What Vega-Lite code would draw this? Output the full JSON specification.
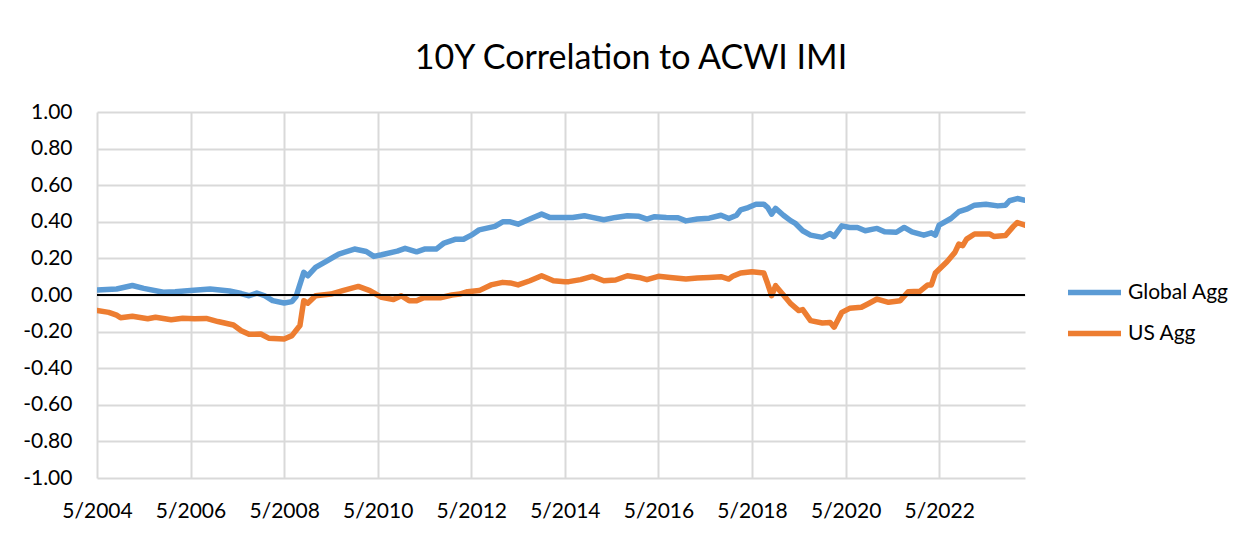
{
  "$schema": "https://vega.github.io/schema/vega-lite/v6.json",
  "width": 928,
  "height": 366,
  "autosize": {"type": "none"},
  "padding": {"left": 97, "top": 112, "right": 219, "bottom": 56},
  "background": "#ffffff",
  "title": {
    "text": "10Y Correlation to ACWI IMI",
    "font": "Lato",
    "fontSize": 34,
    "fontWeight": "normal",
    "color": "#000000",
    "anchor": "middle",
    "frame": "group",
    "dx": 70,
    "baseline": "alphabetic",
    "offset": -2
  },
  "config": {
    "view": {"stroke": null},
    "font": "Lato",
    "axis": {"labelOverlap": false, "labelFlush": false}
  },
  "datasets": {
    "series": [
      {"date": "2004-05-01", "series": "Global Agg", "value": 0.027},
      {"date": "2004-10-01", "series": "Global Agg", "value": 0.033},
      {"date": "2005-02-01", "series": "Global Agg", "value": 0.052},
      {"date": "2005-05-01", "series": "Global Agg", "value": 0.036},
      {"date": "2005-10-01", "series": "Global Agg", "value": 0.015},
      {"date": "2006-01-01", "series": "Global Agg", "value": 0.018},
      {"date": "2006-05-01", "series": "Global Agg", "value": 0.025},
      {"date": "2006-10-01", "series": "Global Agg", "value": 0.033},
      {"date": "2007-03-01", "series": "Global Agg", "value": 0.022},
      {"date": "2007-06-01", "series": "Global Agg", "value": 0.008},
      {"date": "2007-08-01", "series": "Global Agg", "value": -0.004},
      {"date": "2007-10-01", "series": "Global Agg", "value": 0.011},
      {"date": "2007-12-01", "series": "Global Agg", "value": -0.004},
      {"date": "2008-02-01", "series": "Global Agg", "value": -0.031},
      {"date": "2008-05-01", "series": "Global Agg", "value": -0.044},
      {"date": "2008-07-01", "series": "Global Agg", "value": -0.036},
      {"date": "2008-08-01", "series": "Global Agg", "value": -0.01},
      {"date": "2008-10-01", "series": "Global Agg", "value": 0.124},
      {"date": "2008-11-01", "series": "Global Agg", "value": 0.105},
      {"date": "2009-01-01", "series": "Global Agg", "value": 0.151},
      {"date": "2009-04-01", "series": "Global Agg", "value": 0.187},
      {"date": "2009-07-01", "series": "Global Agg", "value": 0.224},
      {"date": "2009-11-01", "series": "Global Agg", "value": 0.251},
      {"date": "2010-02-01", "series": "Global Agg", "value": 0.238},
      {"date": "2010-04-01", "series": "Global Agg", "value": 0.211},
      {"date": "2010-06-01", "series": "Global Agg", "value": 0.22},
      {"date": "2010-10-01", "series": "Global Agg", "value": 0.24},
      {"date": "2010-12-01", "series": "Global Agg", "value": 0.255},
      {"date": "2011-03-01", "series": "Global Agg", "value": 0.236},
      {"date": "2011-05-01", "series": "Global Agg", "value": 0.251},
      {"date": "2011-08-01", "series": "Global Agg", "value": 0.251},
      {"date": "2011-10-01", "series": "Global Agg", "value": 0.284},
      {"date": "2012-01-01", "series": "Global Agg", "value": 0.305},
      {"date": "2012-03-01", "series": "Global Agg", "value": 0.305},
      {"date": "2012-05-01", "series": "Global Agg", "value": 0.327},
      {"date": "2012-07-01", "series": "Global Agg", "value": 0.356},
      {"date": "2012-11-01", "series": "Global Agg", "value": 0.375},
      {"date": "2013-01-01", "series": "Global Agg", "value": 0.4},
      {"date": "2013-03-01", "series": "Global Agg", "value": 0.4},
      {"date": "2013-05-01", "series": "Global Agg", "value": 0.387},
      {"date": "2013-08-01", "series": "Global Agg", "value": 0.415},
      {"date": "2013-11-01", "series": "Global Agg", "value": 0.442},
      {"date": "2014-01-01", "series": "Global Agg", "value": 0.424},
      {"date": "2014-05-01", "series": "Global Agg", "value": 0.424},
      {"date": "2014-07-01", "series": "Global Agg", "value": 0.424},
      {"date": "2014-10-01", "series": "Global Agg", "value": 0.433},
      {"date": "2014-12-01", "series": "Global Agg", "value": 0.424},
      {"date": "2015-03-01", "series": "Global Agg", "value": 0.411},
      {"date": "2015-06-01", "series": "Global Agg", "value": 0.424},
      {"date": "2015-09-01", "series": "Global Agg", "value": 0.433},
      {"date": "2015-12-01", "series": "Global Agg", "value": 0.43},
      {"date": "2016-02-01", "series": "Global Agg", "value": 0.415},
      {"date": "2016-04-01", "series": "Global Agg", "value": 0.428},
      {"date": "2016-07-01", "series": "Global Agg", "value": 0.424},
      {"date": "2016-10-01", "series": "Global Agg", "value": 0.422},
      {"date": "2016-12-01", "series": "Global Agg", "value": 0.405},
      {"date": "2017-03-01", "series": "Global Agg", "value": 0.415},
      {"date": "2017-06-01", "series": "Global Agg", "value": 0.42},
      {"date": "2017-09-01", "series": "Global Agg", "value": 0.436},
      {"date": "2017-11-01", "series": "Global Agg", "value": 0.418},
      {"date": "2018-01-01", "series": "Global Agg", "value": 0.436},
      {"date": "2018-02-01", "series": "Global Agg", "value": 0.465},
      {"date": "2018-04-01", "series": "Global Agg", "value": 0.478},
      {"date": "2018-06-01", "series": "Global Agg", "value": 0.496},
      {"date": "2018-08-01", "series": "Global Agg", "value": 0.496},
      {"date": "2018-09-01", "series": "Global Agg", "value": 0.478},
      {"date": "2018-10-01", "series": "Global Agg", "value": 0.442},
      {"date": "2018-11-01", "series": "Global Agg", "value": 0.473},
      {"date": "2019-01-01", "series": "Global Agg", "value": 0.436},
      {"date": "2019-03-01", "series": "Global Agg", "value": 0.405},
      {"date": "2019-04-01", "series": "Global Agg", "value": 0.393},
      {"date": "2019-06-01", "series": "Global Agg", "value": 0.351},
      {"date": "2019-08-01", "series": "Global Agg", "value": 0.327},
      {"date": "2019-11-01", "series": "Global Agg", "value": 0.315},
      {"date": "2020-01-01", "series": "Global Agg", "value": 0.336},
      {"date": "2020-02-01", "series": "Global Agg", "value": 0.32},
      {"date": "2020-04-01", "series": "Global Agg", "value": 0.378},
      {"date": "2020-06-01", "series": "Global Agg", "value": 0.369},
      {"date": "2020-08-01", "series": "Global Agg", "value": 0.369},
      {"date": "2020-10-01", "series": "Global Agg", "value": 0.351},
      {"date": "2020-12-01", "series": "Global Agg", "value": 0.36},
      {"date": "2021-01-01", "series": "Global Agg", "value": 0.364},
      {"date": "2021-03-01", "series": "Global Agg", "value": 0.345},
      {"date": "2021-06-01", "series": "Global Agg", "value": 0.343},
      {"date": "2021-08-01", "series": "Global Agg", "value": 0.369},
      {"date": "2021-10-01", "series": "Global Agg", "value": 0.345},
      {"date": "2022-01-01", "series": "Global Agg", "value": 0.327},
      {"date": "2022-03-01", "series": "Global Agg", "value": 0.34},
      {"date": "2022-04-01", "series": "Global Agg", "value": 0.327},
      {"date": "2022-05-01", "series": "Global Agg", "value": 0.382},
      {"date": "2022-08-01", "series": "Global Agg", "value": 0.418},
      {"date": "2022-10-01", "series": "Global Agg", "value": 0.455},
      {"date": "2022-12-01", "series": "Global Agg", "value": 0.469},
      {"date": "2023-02-01", "series": "Global Agg", "value": 0.491},
      {"date": "2023-05-01", "series": "Global Agg", "value": 0.496},
      {"date": "2023-08-01", "series": "Global Agg", "value": 0.487},
      {"date": "2023-10-01", "series": "Global Agg", "value": 0.491},
      {"date": "2023-11-01", "series": "Global Agg", "value": 0.515},
      {"date": "2024-01-01", "series": "Global Agg", "value": 0.527},
      {"date": "2024-03-01", "series": "Global Agg", "value": 0.518},
      {"date": "2004-05-01", "series": "US Agg", "value": -0.085},
      {"date": "2004-08-01", "series": "US Agg", "value": -0.095},
      {"date": "2004-10-01", "series": "US Agg", "value": -0.11},
      {"date": "2004-11-01", "series": "US Agg", "value": -0.124},
      {"date": "2005-02-01", "series": "US Agg", "value": -0.116},
      {"date": "2005-06-01", "series": "US Agg", "value": -0.13},
      {"date": "2005-08-01", "series": "US Agg", "value": -0.122},
      {"date": "2005-12-01", "series": "US Agg", "value": -0.135},
      {"date": "2006-03-01", "series": "US Agg", "value": -0.127},
      {"date": "2006-06-01", "series": "US Agg", "value": -0.13},
      {"date": "2006-09-01", "series": "US Agg", "value": -0.128},
      {"date": "2006-12-01", "series": "US Agg", "value": -0.145},
      {"date": "2007-04-01", "series": "US Agg", "value": -0.164},
      {"date": "2007-06-01", "series": "US Agg", "value": -0.195},
      {"date": "2007-08-01", "series": "US Agg", "value": -0.215},
      {"date": "2007-11-01", "series": "US Agg", "value": -0.213},
      {"date": "2008-01-01", "series": "US Agg", "value": -0.236},
      {"date": "2008-05-01", "series": "US Agg", "value": -0.24},
      {"date": "2008-07-01", "series": "US Agg", "value": -0.222},
      {"date": "2008-09-01", "series": "US Agg", "value": -0.167},
      {"date": "2008-10-01", "series": "US Agg", "value": -0.031},
      {"date": "2008-11-01", "series": "US Agg", "value": -0.045},
      {"date": "2009-01-01", "series": "US Agg", "value": -0.004},
      {"date": "2009-05-01", "series": "US Agg", "value": 0.005},
      {"date": "2009-08-01", "series": "US Agg", "value": 0.024},
      {"date": "2009-12-01", "series": "US Agg", "value": 0.047},
      {"date": "2010-03-01", "series": "US Agg", "value": 0.024},
      {"date": "2010-06-01", "series": "US Agg", "value": -0.013},
      {"date": "2010-09-01", "series": "US Agg", "value": -0.025},
      {"date": "2010-11-01", "series": "US Agg", "value": -0.004},
      {"date": "2011-01-01", "series": "US Agg", "value": -0.031},
      {"date": "2011-03-01", "series": "US Agg", "value": -0.031},
      {"date": "2011-05-01", "series": "US Agg", "value": -0.013},
      {"date": "2011-09-01", "series": "US Agg", "value": -0.015},
      {"date": "2011-12-01", "series": "US Agg", "value": 0.0},
      {"date": "2012-02-01", "series": "US Agg", "value": 0.005},
      {"date": "2012-04-01", "series": "US Agg", "value": 0.018},
      {"date": "2012-07-01", "series": "US Agg", "value": 0.024},
      {"date": "2012-10-01", "series": "US Agg", "value": 0.055},
      {"date": "2013-01-01", "series": "US Agg", "value": 0.069},
      {"date": "2013-03-01", "series": "US Agg", "value": 0.066},
      {"date": "2013-05-01", "series": "US Agg", "value": 0.055},
      {"date": "2013-08-01", "series": "US Agg", "value": 0.078},
      {"date": "2013-11-01", "series": "US Agg", "value": 0.105},
      {"date": "2014-02-01", "series": "US Agg", "value": 0.078},
      {"date": "2014-05-01", "series": "US Agg", "value": 0.073},
      {"date": "2014-06-01", "series": "US Agg", "value": 0.073},
      {"date": "2014-09-01", "series": "US Agg", "value": 0.084},
      {"date": "2014-12-01", "series": "US Agg", "value": 0.102},
      {"date": "2015-03-01", "series": "US Agg", "value": 0.078},
      {"date": "2015-06-01", "series": "US Agg", "value": 0.082},
      {"date": "2015-09-01", "series": "US Agg", "value": 0.105},
      {"date": "2015-12-01", "series": "US Agg", "value": 0.096},
      {"date": "2016-02-01", "series": "US Agg", "value": 0.084},
      {"date": "2016-05-01", "series": "US Agg", "value": 0.102},
      {"date": "2016-08-01", "series": "US Agg", "value": 0.096},
      {"date": "2016-12-01", "series": "US Agg", "value": 0.087},
      {"date": "2017-03-01", "series": "US Agg", "value": 0.093},
      {"date": "2017-06-01", "series": "US Agg", "value": 0.096},
      {"date": "2017-09-01", "series": "US Agg", "value": 0.1},
      {"date": "2017-11-01", "series": "US Agg", "value": 0.087},
      {"date": "2017-12-01", "series": "US Agg", "value": 0.102},
      {"date": "2018-02-01", "series": "US Agg", "value": 0.12},
      {"date": "2018-05-01", "series": "US Agg", "value": 0.127},
      {"date": "2018-08-01", "series": "US Agg", "value": 0.12},
      {"date": "2018-09-01", "series": "US Agg", "value": 0.06},
      {"date": "2018-10-01", "series": "US Agg", "value": -0.004},
      {"date": "2018-11-01", "series": "US Agg", "value": 0.051},
      {"date": "2019-01-01", "series": "US Agg", "value": 0.0},
      {"date": "2019-03-01", "series": "US Agg", "value": -0.049},
      {"date": "2019-05-01", "series": "US Agg", "value": -0.085},
      {"date": "2019-06-01", "series": "US Agg", "value": -0.08},
      {"date": "2019-08-01", "series": "US Agg", "value": -0.14},
      {"date": "2019-11-01", "series": "US Agg", "value": -0.153},
      {"date": "2020-01-01", "series": "US Agg", "value": -0.15},
      {"date": "2020-02-01", "series": "US Agg", "value": -0.176},
      {"date": "2020-04-01", "series": "US Agg", "value": -0.095},
      {"date": "2020-06-01", "series": "US Agg", "value": -0.073},
      {"date": "2020-09-01", "series": "US Agg", "value": -0.067},
      {"date": "2020-11-01", "series": "US Agg", "value": -0.045},
      {"date": "2021-01-01", "series": "US Agg", "value": -0.022},
      {"date": "2021-04-01", "series": "US Agg", "value": -0.04},
      {"date": "2021-07-01", "series": "US Agg", "value": -0.031},
      {"date": "2021-09-01", "series": "US Agg", "value": 0.018},
      {"date": "2021-12-01", "series": "US Agg", "value": 0.02},
      {"date": "2022-02-01", "series": "US Agg", "value": 0.055},
      {"date": "2022-03-01", "series": "US Agg", "value": 0.055},
      {"date": "2022-04-01", "series": "US Agg", "value": 0.12},
      {"date": "2022-07-01", "series": "US Agg", "value": 0.182},
      {"date": "2022-09-01", "series": "US Agg", "value": 0.233},
      {"date": "2022-10-01", "series": "US Agg", "value": 0.278},
      {"date": "2022-11-01", "series": "US Agg", "value": 0.27},
      {"date": "2022-12-01", "series": "US Agg", "value": 0.305},
      {"date": "2023-02-01", "series": "US Agg", "value": 0.333},
      {"date": "2023-06-01", "series": "US Agg", "value": 0.333},
      {"date": "2023-07-01", "series": "US Agg", "value": 0.32},
      {"date": "2023-10-01", "series": "US Agg", "value": 0.325},
      {"date": "2023-12-01", "series": "US Agg", "value": 0.375},
      {"date": "2024-01-01", "series": "US Agg", "value": 0.396},
      {"date": "2024-03-01", "series": "US Agg", "value": 0.382}
    ],
    "zero": [{"value": 0}]
  },
  "encoding": {
    "y": {
      "field": "value",
      "type": "quantitative",
      "scale": {"domain": [-1, 1], "nice": false, "zero": false},
      "axis": {
        "title": null,
        "values": [-1, -0.8, -0.6, -0.4, -0.2, 0, 0.2, 0.4, 0.6, 0.8, 1],
        "labelExpr": "(datum.value < 0 ? '-' : '') + format(abs(datum.value), '.2f')",
        "grid": true,
        "gridColor": "#d9d9d9",
        "gridWidth": 2,
        "domain": false,
        "ticks": false,
        "tickSize": 0,
        "labelPadding": 25,
        "labelFont": "Lato",
        "labelFontSize": 21,
        "labelColor": "#000000",
        "labelOverlap": false
      }
    }
  },
  "layer": [
    {
      "data": {"name": "series"},
      "mark": {"type": "line", "strokeWidth": 5.5, "strokeCap": "round", "strokeJoin": "round", "clip": true},
      "encoding": {
        "x": {
          "field": "date",
          "type": "temporal",
          "scale": {"type": "utc", "domain": [{"year": 2004, "month": 5, "date": 1, "utc": true}, {"year": 2024, "month": 3, "date": 1, "utc": true}], "nice": false},
          "axis": {
            "title": null,
            "values": [
              {"year": 2004, "month": 5, "date": 1, "utc": true},
              {"year": 2006, "month": 5, "date": 1, "utc": true},
              {"year": 2008, "month": 5, "date": 1, "utc": true},
              {"year": 2010, "month": 5, "date": 1, "utc": true},
              {"year": 2012, "month": 5, "date": 1, "utc": true},
              {"year": 2014, "month": 5, "date": 1, "utc": true},
              {"year": 2016, "month": 5, "date": 1, "utc": true},
              {"year": 2018, "month": 5, "date": 1, "utc": true},
              {"year": 2020, "month": 5, "date": 1, "utc": true},
              {"year": 2022, "month": 5, "date": 1, "utc": true}
            ],
            "labelExpr": "utcFormat(datum.value, '%-m/%Y')",
            "grid": true,
            "gridColor": "#d9d9d9",
            "gridWidth": 2,
            "domain": false,
            "ticks": false,
            "tickSize": 0,
            "labelPadding": 22,
            "labelFont": "Lato",
            "labelFontSize": 21,
            "labelColor": "#000000",
            "labelAlign": "center",
            "labelOverlap": false,
            "labelFlush": false
          }
        },
        "color": {
          "field": "series",
          "type": "nominal",
          "scale": {"domain": ["Global Agg", "US Agg"], "range": ["#5B9BD5", "#ED7D31"]},
          "legend": {
            "title": null,
            "orient": "none",
            "legendX": 968,
            "legendY": 151,
            "direction": "vertical",
            "symbolType": "stroke",
            "symbolSize": 2809,
            "symbolStrokeWidth": 5.5,
            "labelFont": "Lato",
            "labelFontSize": 21,
            "labelColor": "#000000",
            "labelOffset": 4,
            "rowPadding": -2,
            "padding": 0
          }
        }
      }
    },
    {
      "data": {"name": "zero"},
      "mark": {"type": "rule", "color": "#000000", "strokeWidth": 2},
      "encoding": {}
    }
  ]
}
